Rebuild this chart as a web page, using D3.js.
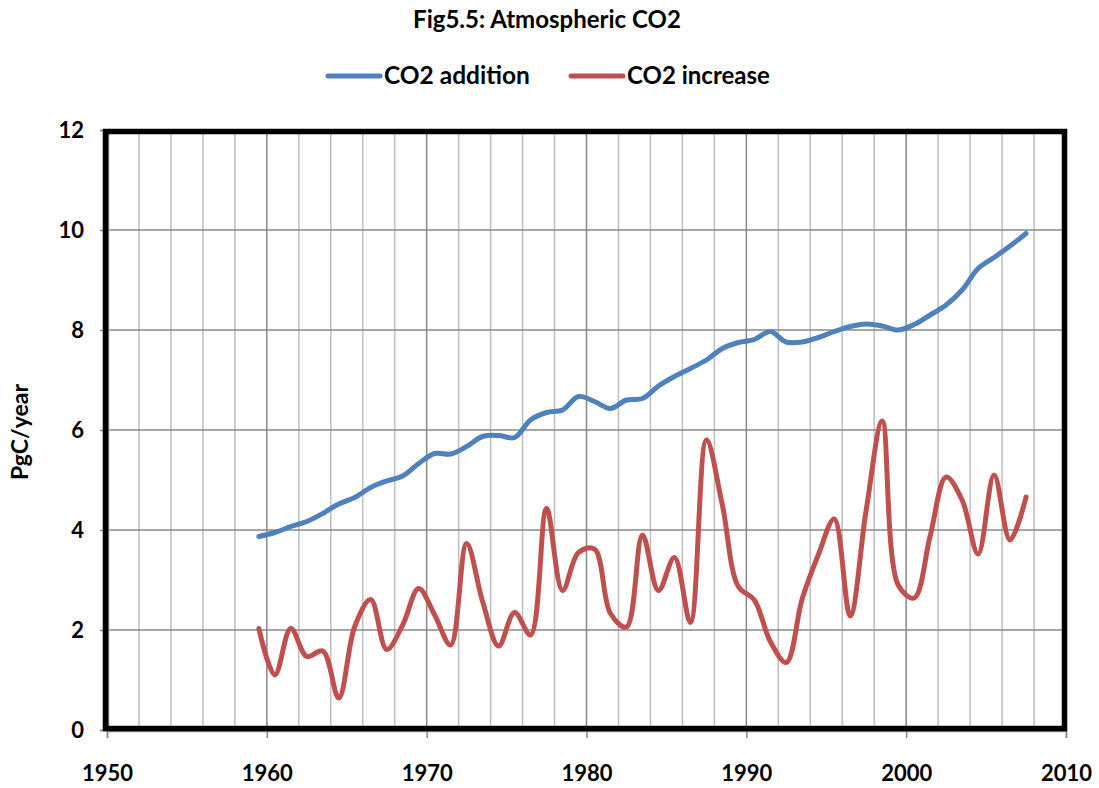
<!DOCTYPE html>
<html>
<head>
<meta charset="utf-8">
<script src="https://cdn.jsdelivr.net/npm/d3@7"></script>
<style>
  html, body { margin: 0; padding: 0; background: #fff; }
  svg { display: block; }
  text { font-family: "Lato", "Open Sans", sans-serif; font-weight: bold; fill: #000; }
</style>
</head>
<body>
<script>
// ---- data ----
const years = d3.range(1959, 2008);
const co2Addition = [3.87, 3.95, 4.07, 4.17, 4.33, 4.52, 4.65, 4.85, 4.98, 5.08,
  5.33, 5.53, 5.52, 5.67, 5.87, 5.89, 5.85, 6.20, 6.35, 6.40,
  6.67, 6.57, 6.43, 6.60, 6.63, 6.88, 7.07, 7.23, 7.40, 7.63,
  7.75, 7.81, 7.97, 7.76, 7.76, 7.85, 7.97, 8.07, 8.12, 8.08,
  8.00, 8.11, 8.30, 8.50, 8.80, 9.23, 9.45, 9.68, 9.93];
const co2Increase = [2.03, 1.10, 2.03, 1.47, 1.58, 0.64, 2.07, 2.61, 1.61, 2.10,
  2.83, 2.30, 1.70, 3.73, 2.57, 1.68, 2.35, 1.90, 4.43, 2.79,
  3.55, 3.62, 2.33, 2.06, 3.90, 2.79, 3.45, 2.15, 5.80, 4.50,
  2.87, 2.60, 1.77, 1.35, 2.63, 3.50, 4.22, 2.28, 4.40, 6.18,
  2.90, 2.64, 3.88, 5.06, 4.60, 3.52, 5.10, 3.80, 4.66];
const seriesNames = ["CO2 addition", "CO2 increase"];
const seriesColors = ["#4F81BD", "#C0504D"];
const xTicks = [1950, 1960, 1970, 1980, 1990, 2000, 2010];
const yTicks = [0, 2, 4, 6, 8, 10, 12];
const titleText = "Fig5.5: Atmospheric CO2";
const yLabel = "PgC/year";

// ---- layout ----
const W = 1099, H = 788;
const pL = 107, pR = 1066, pT = 130, pB = 730;

const svg = d3.select("body").append("svg").attr("width", W).attr("height", H);

const x = d3.scaleLinear().domain([1950, 2010]).range([pL, pR]);
const y = d3.scaleLinear().domain([0, 12]).range([pB, pT]);

// fit a text element's font size to a target width
function fitWidth(sel, target) {
  const fs = +sel.attr("font-size");
  const len = sel.node().getComputedTextLength();
  if (len > 0) sel.attr("font-size", (fs * target / len).toFixed(2));
}

// gridlines
const g = svg.append("g");
g.selectAll("line.vminor").data(d3.range(1952, 2010, 2).filter(v => v % 10 !== 0))
  .join("line").attr("x1", d => x(d)).attr("x2", d => x(d))
  .attr("y1", pT).attr("y2", pB)
  .attr("stroke", "#BEBEBE").attr("stroke-width", 1.5);
g.selectAll("line.vmajor").data(xTicks.slice(1, -1))
  .join("line").attr("x1", d => x(d)).attr("x2", d => x(d))
  .attr("y1", pT).attr("y2", pB)
  .attr("stroke", "#888").attr("stroke-width", 1.5);
g.selectAll("line.h").data(yTicks.slice(1, -1))
  .join("line").attr("x1", pL).attr("x2", pR)
  .attr("y1", d => y(d)).attr("y2", d => y(d))
  .attr("stroke", "#888").attr("stroke-width", 1.5);

// axes (gray)
const xAxis = d3.axisBottom(x).tickValues(xTicks).tickSize(7).tickFormat(d3.format("d"));
const yAxis = d3.axisLeft(y).tickValues(yTicks).tickSize(8);
const gx = svg.append("g").attr("transform", `translate(0,${pB + 1})`).call(xAxis);
const gy = svg.append("g").attr("transform", `translate(${pL + 1},0)`).call(yAxis);
[gx, gy].forEach(a => {
  a.select(".domain").attr("stroke", "#888").attr("stroke-width", 1.5);
  a.selectAll(".tick line").attr("stroke", "#888").attr("stroke-width", 1.5);
  a.selectAll("text").attr("font-family", "Lato").attr("font-weight", "bold")
    .attr("font-size", 22).attr("fill", "#000");
});
gx.selectAll("text").attr("dy", null).attr("y", 50);
gy.selectAll("text").attr("x", -24).attr("dy", "0.36em");

// frame
svg.append("rect").attr("x", pL - 1.5).attr("y", pT + 1.5)
  .attr("width", pR - pL).attr("height", pB - pT - 3)
  .attr("fill", "none").attr("stroke", "#000").attr("stroke-width", 5.5);

// lines
const line = d3.line().x((d, i) => x(years[i] + 0.5)).y(d => y(d))
  .curve(d3.curveCatmullRom.alpha(0.5));
[co2Addition, co2Increase].forEach((s, k) => {
  svg.append("path").datum(s).attr("d", line).attr("fill", "none")
    .attr("stroke", seriesColors[k]).attr("stroke-width", 5)
    .attr("stroke-linecap", "round").attr("stroke-linejoin", "round");
});

// title
const t = svg.append("text").attr("x", 547).attr("y", 28).attr("text-anchor", "middle")
  .attr("font-size", 22).text(titleText);
fitWidth(t, 268);

// legend
const legX = [328, 571];
const legW = [146, 143];
seriesNames.forEach((n, k) => {
  svg.append("line").attr("x1", legX[k]).attr("x2", legX[k] + 52)
    .attr("y1", 76).attr("y2", 76).attr("stroke", seriesColors[k])
    .attr("stroke-width", 5).attr("stroke-linecap", "round");
  const lt = svg.append("text").attr("x", legX[k] + 56).attr("y", 84)
    .attr("font-size", 22).text(n);
  fitWidth(lt, legW[k]);
});

// y label
const yl = svg.append("text").attr("transform", "translate(28,432) rotate(-90)")
  .attr("text-anchor", "middle").attr("font-size", 22).text(yLabel);
fitWidth(yl, 96);
</script>
</body>
</html>
